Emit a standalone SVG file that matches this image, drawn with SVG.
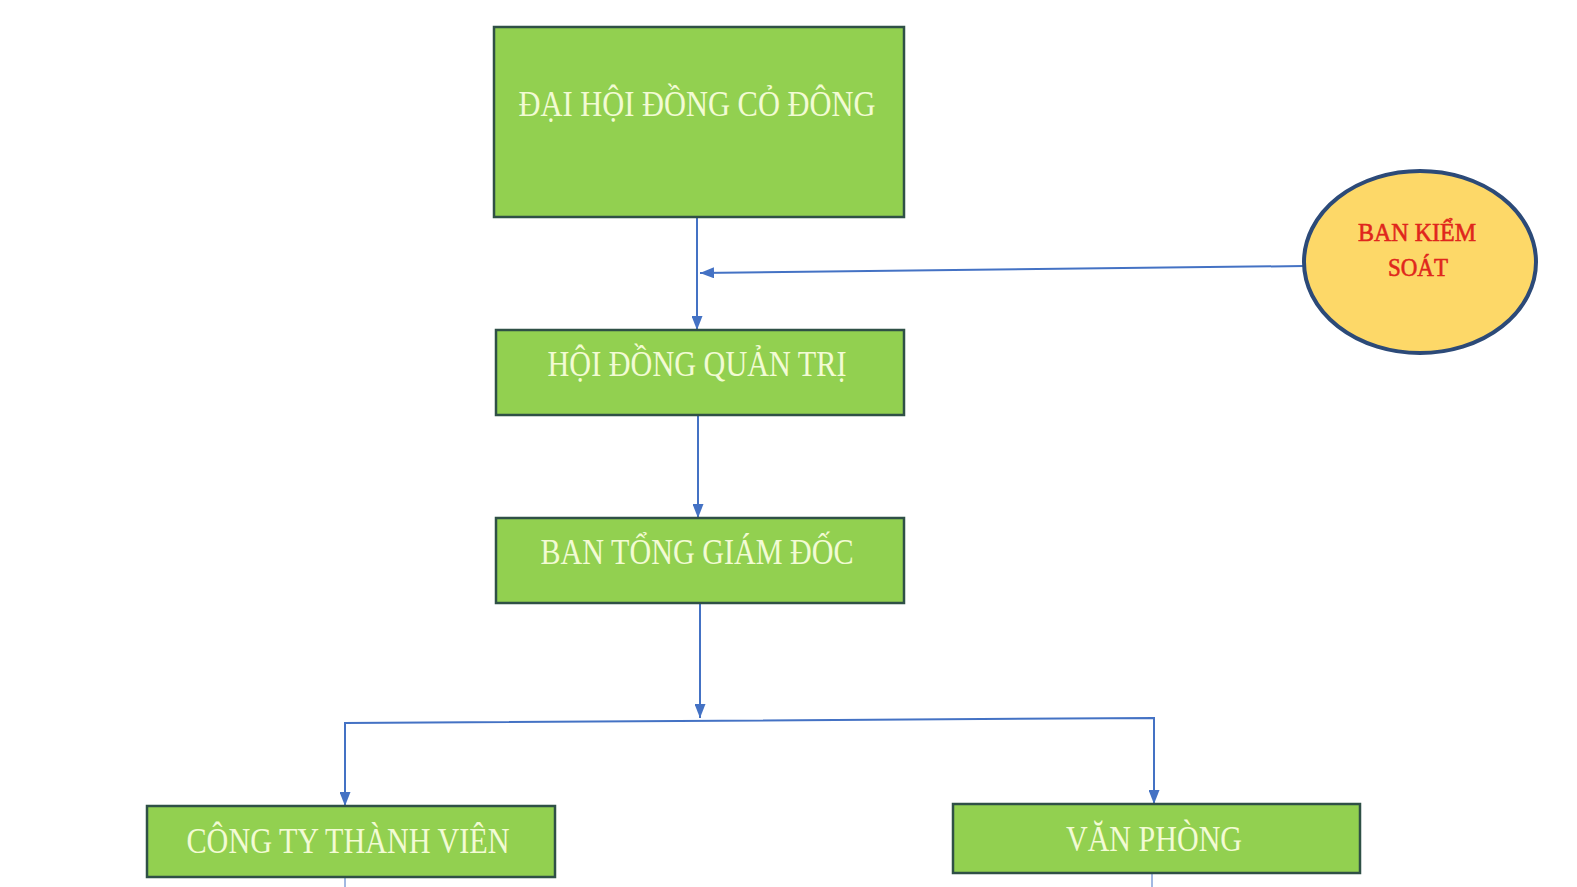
<svg xmlns="http://www.w3.org/2000/svg" width="1577" height="887" viewBox="0 0 1577 887">
<defs>
<style>
.box{fill:#92d050;stroke:#2f5046;stroke-width:2.5}
.lbl{font-family:"Liberation Serif","Times New Roman",serif;font-size:36px;fill:#f2fbd4;text-anchor:middle}
.red{font-family:"Liberation Serif","Times New Roman",serif;font-size:26px;fill:#e0261c;stroke:#e0261c;stroke-width:0.6;text-anchor:middle}
.con{fill:none;stroke:#4472c4;stroke-width:2}
</style>
<marker id="arr2" viewBox="0 0 10 10" refX="10" refY="5" markerWidth="14" markerHeight="11" markerUnits="userSpaceOnUse" orient="auto" preserveAspectRatio="none">
<path d="M0,0 L10,5 L0,10 z" fill="#4472c4"/>
</marker>
</defs>
<rect width="1577" height="887" fill="#ffffff"/>
<g id="connectors">
<line class="con" x1="697" y1="217" x2="697" y2="330" marker-end="url(#arr2)"/>
<line class="con" x1="1304" y1="266" x2="700" y2="273" marker-end="url(#arr2)"/>
<line class="con" x1="698" y1="415" x2="698" y2="518" marker-end="url(#arr2)"/>
<line class="con" x1="700" y1="603" x2="700" y2="718" marker-end="url(#arr2)"/>
<polyline class="con" points="345,806 345,723 1154,718 1154,804"/>
<line class="con" x1="345" y1="760" x2="345" y2="806" marker-end="url(#arr2)"/>
<line class="con" x1="1154" y1="760" x2="1154" y2="804" marker-end="url(#arr2)"/>
<line x1="345" y1="878" x2="345" y2="887" stroke="#4472c4" stroke-width="1"/>
<line x1="1152" y1="874" x2="1152" y2="887" stroke="#4472c4" stroke-width="1"/>
</g>
<g id="n-daihoi">
<rect class="box" x="494" y="27" width="410" height="190"/>
<text class="lbl" x="697" y="116" textLength="357" lengthAdjust="spacingAndGlyphs">ĐẠI HỘI ĐỒNG CỎ ĐÔNG</text>
</g>
<g id="n-hdqt">
<rect class="box" x="496" y="330" width="408" height="85"/>
<text class="lbl" x="697" y="376" textLength="299" lengthAdjust="spacingAndGlyphs">HỘI ĐỒNG QUẢN TRỊ</text>
</g>
<g id="n-btgd">
<rect class="box" x="496" y="518" width="408" height="85"/>
<text class="lbl" x="697" y="564" textLength="313" lengthAdjust="spacingAndGlyphs">BAN TỔNG GIÁM ĐỐC</text>
</g>
<g id="n-cttv">
<rect class="box" x="147" y="806" width="408" height="71"/>
<text class="lbl" x="348" y="853" textLength="323" lengthAdjust="spacingAndGlyphs">CÔNG TY THÀNH VIÊN</text>
</g>
<g id="n-vanphong">
<rect class="box" x="953" y="804" width="407" height="69"/>
<text class="lbl" x="1154" y="851" textLength="176" lengthAdjust="spacingAndGlyphs">VĂN PHÒNG</text>
</g>
<g id="n-bks">
<ellipse cx="1420" cy="262" rx="116" ry="91" fill="#fdd868" stroke="#2c4a78" stroke-width="4"/>
<text class="red" x="1417" y="241" textLength="118" lengthAdjust="spacingAndGlyphs">BAN KIỂM</text>
<text class="red" x="1418" y="276" textLength="60" lengthAdjust="spacingAndGlyphs">SOÁT</text>
</g>
</svg>
